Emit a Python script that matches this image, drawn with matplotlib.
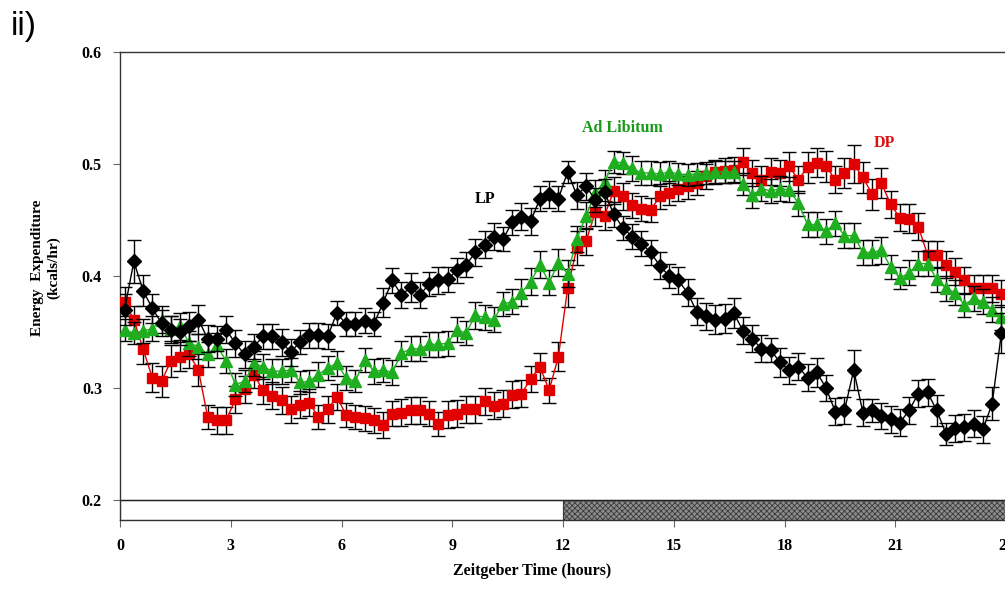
import numpy as np
import matplotlib
matplotlib.use("Agg")
import matplotlib.pyplot as plt
from matplotlib.patches import Rectangle

# ---- data (Zeitgeber time, 15-min bins) ----
hours = np.arange(96) * 0.25 + 0.125

lp = [0.370, 0.413, 0.387, 0.371, 0.358, 0.352, 0.350, 0.355, 0.361, 0.344,
      0.344, 0.352, 0.340, 0.330, 0.337, 0.346, 0.346, 0.341, 0.332, 0.341,
      0.347, 0.347, 0.346, 0.367, 0.357, 0.357, 0.360, 0.357, 0.376, 0.396,
      0.383, 0.390, 0.383, 0.393, 0.396, 0.397, 0.405, 0.410, 0.421, 0.428,
      0.435, 0.433, 0.448, 0.453, 0.449, 0.469, 0.473, 0.469, 0.493, 0.472,
      0.480, 0.468, 0.475, 0.455, 0.443, 0.435, 0.429, 0.421, 0.409, 0.400,
      0.396, 0.385, 0.368, 0.364, 0.361, 0.362, 0.367, 0.351, 0.344, 0.335,
      0.334, 0.323, 0.316, 0.319, 0.309, 0.314, 0.300, 0.279, 0.280, 0.316,
      0.278, 0.280, 0.275, 0.272, 0.269, 0.280, 0.295, 0.296, 0.280, 0.259,
      0.264, 0.265, 0.268, 0.263, 0.286, 0.349]

al = [0.352, 0.349, 0.351, 0.353, 0.361, 0.353, 0.355, 0.340, 0.337, 0.330,
      0.338, 0.324, 0.303, 0.306, 0.322, 0.319, 0.315, 0.315, 0.316, 0.305,
      0.306, 0.312, 0.318, 0.322, 0.309, 0.306, 0.325, 0.315, 0.316, 0.314,
      0.331, 0.335, 0.335, 0.339, 0.339, 0.340, 0.352, 0.349, 0.365, 0.363,
      0.361, 0.375, 0.377, 0.385, 0.395, 0.410, 0.394, 0.412, 0.402, 0.433,
      0.454, 0.474, 0.484, 0.502, 0.501, 0.496, 0.492, 0.492, 0.491, 0.493,
      0.491, 0.490, 0.491, 0.492, 0.493, 0.493, 0.493, 0.482, 0.472, 0.478,
      0.476, 0.478, 0.477, 0.465, 0.446, 0.446, 0.440, 0.447, 0.436, 0.436,
      0.421, 0.421, 0.423, 0.408, 0.398, 0.403, 0.411, 0.411, 0.397, 0.389,
      0.385, 0.374, 0.380, 0.377, 0.370, 0.363]

dp = [0.377, 0.361, 0.335, 0.309, 0.306, 0.324, 0.328, 0.330, 0.316, 0.274,
      0.271, 0.271, 0.290, 0.299, 0.312, 0.298, 0.293, 0.289, 0.281, 0.285,
      0.287, 0.274, 0.281, 0.292, 0.276, 0.274, 0.273, 0.271, 0.267, 0.277,
      0.278, 0.280, 0.280, 0.277, 0.268, 0.276, 0.277, 0.281, 0.281, 0.288,
      0.284, 0.286, 0.294, 0.295, 0.308, 0.319, 0.298, 0.328, 0.389, 0.425,
      0.431, 0.457, 0.454, 0.476, 0.471, 0.463, 0.460, 0.459, 0.471, 0.474,
      0.478, 0.480, 0.483, 0.489, 0.493, 0.494, 0.495, 0.502, 0.492, 0.486,
      0.493, 0.492, 0.498, 0.486, 0.497, 0.501, 0.498, 0.486, 0.492, 0.500,
      0.488, 0.473, 0.483, 0.464, 0.452, 0.451, 0.444, 0.419, 0.419, 0.410,
      0.404, 0.396, 0.389, 0.389, 0.389, 0.384]

lp_err = [0.014, 0.019, 0.014, 0.013, 0.012, 0.012, 0.012, 0.013, 0.013, 0.012,
          0.011, 0.012, 0.012, 0.012, 0.011, 0.011, 0.011, 0.012, 0.012, 0.011,
          0.011, 0.011, 0.011, 0.011, 0.011, 0.011, 0.011, 0.011, 0.013, 0.011,
          0.012, 0.013, 0.012, 0.011, 0.012, 0.011, 0.011, 0.011, 0.012, 0.012,
          0.012, 0.011, 0.011, 0.012, 0.012, 0.011, 0.012, 0.011, 0.010, 0.012,
          0.012, 0.011, 0.012, 0.011, 0.011, 0.011, 0.011, 0.011, 0.012, 0.011,
          0.012, 0.012, 0.012, 0.012, 0.013, 0.013, 0.013, 0.012, 0.012, 0.012,
          0.011, 0.013, 0.012, 0.012, 0.012, 0.013, 0.012, 0.012, 0.012, 0.018,
          0.012, 0.010, 0.012, 0.012, 0.012, 0.012, 0.012, 0.012, 0.014, 0.010,
          0.012, 0.012, 0.012, 0.012, 0.015, 0.018]

al_err = [0.010, 0.010, 0.011, 0.011, 0.012, 0.011, 0.012, 0.011, 0.011, 0.011,
          0.011, 0.011, 0.010, 0.010, 0.011, 0.011, 0.011, 0.011, 0.011, 0.010,
          0.010, 0.011, 0.011, 0.011, 0.011, 0.010, 0.011, 0.011, 0.011, 0.011,
          0.011, 0.011, 0.011, 0.011, 0.011, 0.011, 0.011, 0.011, 0.012, 0.011,
          0.011, 0.011, 0.011, 0.012, 0.012, 0.012, 0.011, 0.012, 0.012, 0.012,
          0.012, 0.012, 0.011, 0.010, 0.010, 0.011, 0.011, 0.011, 0.011, 0.010,
          0.010, 0.010, 0.010, 0.010, 0.010, 0.010, 0.010, 0.010, 0.011, 0.011,
          0.011, 0.011, 0.011, 0.011, 0.011, 0.011, 0.011, 0.011, 0.011, 0.011,
          0.011, 0.011, 0.012, 0.011, 0.010, 0.011, 0.011, 0.011, 0.011, 0.011,
          0.011, 0.011, 0.011, 0.011, 0.011, 0.011]

dp_err = [0.013, 0.012, 0.014, 0.013, 0.014, 0.014, 0.013, 0.012, 0.014, 0.011,
          0.012, 0.012, 0.012, 0.012, 0.012, 0.012, 0.012, 0.012, 0.012, 0.012,
          0.012, 0.011, 0.012, 0.012, 0.011, 0.011, 0.011, 0.011, 0.012, 0.011,
          0.012, 0.012, 0.012, 0.011, 0.011, 0.012, 0.012, 0.012, 0.012, 0.012,
          0.012, 0.012, 0.012, 0.012, 0.012, 0.012, 0.011, 0.013, 0.017, 0.015,
          0.012, 0.012, 0.013, 0.012, 0.012, 0.011, 0.011, 0.011, 0.011, 0.011,
          0.011, 0.011, 0.011, 0.011, 0.011, 0.011, 0.011, 0.012, 0.012, 0.012,
          0.012, 0.012, 0.013, 0.012, 0.014, 0.013, 0.014, 0.012, 0.013, 0.017,
          0.014, 0.014, 0.013, 0.012, 0.012, 0.013, 0.012, 0.012, 0.012, 0.012,
          0.012, 0.012, 0.012, 0.012, 0.012, 0.012]

xticks = [0, 3, 6, 9, 12, 15, 18, 21, 24]
yticks = [0.2, 0.3, 0.4, 0.5, 0.6]

serif = ["Liberation Serif", "DejaVu Serif"]
black = "#000000"
green = "#1fae1f"
red = "#e00000"

W, H = 1005, 592
fig = plt.figure(figsize=(W / 100, H / 100), dpi=100)
ax = fig.add_axes([120 / W, (H - 520) / H, 886 / W, 468 / H])

ymin = 0.2 - 20 / 1120
ax.set_xlim(0, 24)
ax.set_ylim(ymin, 0.6)

ekw = dict(ecolor="black", elinewidth=1.0, capsize=5, capthick=1.0)
ax.errorbar(hours, dp, yerr=dp_err, color=red, lw=1.0, marker="s", ms=7.5,
            mfc=red, mec=red, zorder=3, **ekw)
ax.errorbar(hours, al, yerr=al_err, color=green, lw=1.0, marker="^", ms=9,
            mfc=green, mec=green, zorder=4, **ekw)
ax.errorbar(hours, lp, yerr=lp_err, color=black, lw=1.0, marker="D", ms=7.5,
            mfc=black, mec=black, zorder=5, **ekw)

# light / dark bar
ax.add_patch(Rectangle((0, ymin), 12, 0.2 - ymin, facecolor="white",
                       edgecolor="#444444", lw=0.8, zorder=2))
plt.rcParams["hatch.linewidth"] = 0.6
ax.add_patch(Rectangle((12, ymin), 12, 0.2 - ymin, facecolor="#8c8c8c",
                       edgecolor="#3a3a3a", hatch="xxxxxx", lw=0.8, zorder=2))
ax.axhline(0.2, color="#222222", lw=1.0, zorder=2)

for s in ["left", "top", "bottom"]:
    ax.spines[s].set_color("#333333")
    ax.spines[s].set_linewidth(1.0)
ax.spines["right"].set_visible(False)

ax.set_xticks(xticks)
ax.set_xticklabels([str(t) for t in xticks])
ax.set_yticks(yticks)
ax.set_yticklabels([f"{t:.1f}" for t in yticks])
ax.tick_params(axis="both", direction="out", length=5, width=0.8,
               color="#666666", pad=8)
for lab in ax.get_xticklabels() + ax.get_yticklabels():
    lab.set_fontfamily(serif)
    lab.set_fontweight("bold")
    lab.set_fontsize(11.5)

# annotations
ax.text(13.6, 0.532, "Ad Libitum", color="#1a9a1a", fontsize=11.5,
        fontweight="bold", family=serif, ha="center", va="center")
ax.text(9.9, 0.469, "LP", color="black", fontsize=11.5, fontweight="bold",
        family=serif, ha="center", va="center")
ax.text(20.7, 0.519, "DP", color="#dd1111", fontsize=11.5, fontweight="bold",
        family=serif, ha="center", va="center")

fig.text(46 / W, 1 - 268 / H, "Energy  Expenditure\n(kcals/hr)", rotation=90,
         ha="center", va="center", multialignment="center", fontsize=11,
         fontweight="bold", family=serif, linespacing=1.3)
fig.text(532 / W, 1 - 571 / H, "Zeitgeber Time (hours)", ha="center",
         va="center", fontsize=11.5, fontweight="bold", family=serif)
fig.text(11 / W, 1 - 27 / H, "ii)", ha="left", va="center", fontsize=24,
         family=["Liberation Sans", "DejaVu Sans"])

fig.savefig("out.png", dpi=100)
